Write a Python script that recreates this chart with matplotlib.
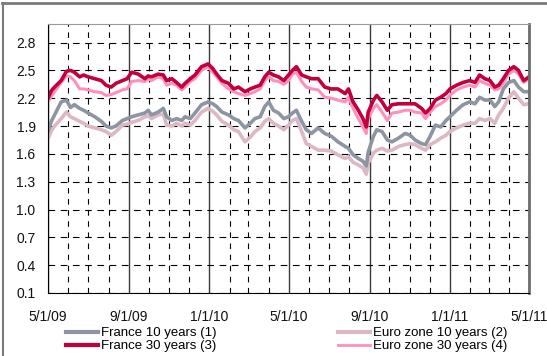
import pandas as pd
import matplotlib
matplotlib.use("Agg")
import matplotlib.pyplot as plt
import matplotlib.dates as mdates
from matplotlib.lines import Line2D
from matplotlib.ticker import FuncFormatter, FixedLocator

plt.rcParams['font.family'] = ['Liberation Sans', 'DejaVu Sans']

# days since 1 May 2009
days = [0, 5, 10, 20, 28, 34, 40, 48, 54, 61, 71, 81, 88, 96, 103, 113, 120, 127,
        137, 147, 152, 157, 167, 175, 180, 188, 195, 203, 208, 216, 223, 233, 243,
        250, 256, 264, 274, 282, 289, 299, 307, 314, 322, 329, 335, 342, 350, 358,
        365, 371, 377, 385, 392, 400, 410, 420, 430, 440, 451, 456, 463, 471, 478,
        483, 486, 494, 499, 507, 515, 522, 532, 542, 550, 557, 567, 573, 580, 588,
        596, 604, 610, 620, 630, 640, 648, 655, 663, 671, 678, 684, 691, 699, 707,
        714, 722, 730]

france_30 = [2.20, 2.28, 2.32, 2.39, 2.49, 2.50, 2.48, 2.43, 2.45, 2.43, 2.41, 2.39,
             2.34, 2.32, 2.36, 2.39, 2.41, 2.48, 2.46, 2.41, 2.44, 2.43, 2.46, 2.45,
             2.39, 2.41, 2.37, 2.32, 2.36, 2.41, 2.45, 2.54, 2.57, 2.52, 2.46, 2.39,
             2.36, 2.30, 2.32, 2.27, 2.30, 2.32, 2.34, 2.43, 2.48, 2.45, 2.43, 2.39,
             2.45, 2.50, 2.54, 2.45, 2.43, 2.41, 2.41, 2.32, 2.30, 2.30, 2.25, 2.30,
             2.16, 2.07, 1.98, 1.89, 2.05, 2.18, 2.23, 2.16, 2.07, 2.13, 2.14, 2.14,
             2.14, 2.14, 2.09, 2.04, 2.09, 2.18, 2.21, 2.25, 2.30, 2.34, 2.37, 2.39,
             2.37, 2.45, 2.41, 2.39, 2.32, 2.34, 2.41, 2.50, 2.54, 2.50, 2.39, 2.43]

euro_30 = [2.16, 2.22, 2.27, 2.37, 2.44, 2.43, 2.39, 2.30, 2.30, 2.29, 2.27, 2.26,
           2.23, 2.24, 2.26, 2.29, 2.30, 2.38, 2.39, 2.38, 2.41, 2.39, 2.43, 2.41,
           2.34, 2.36, 2.34, 2.29, 2.32, 2.38, 2.41, 2.50, 2.54, 2.48, 2.43, 2.36,
           2.30, 2.27, 2.25, 2.23, 2.25, 2.27, 2.30, 2.39, 2.43, 2.39, 2.38, 2.35,
           2.39, 2.46, 2.48, 2.38, 2.32, 2.30, 2.29, 2.21, 2.20, 2.18, 2.16, 2.21,
           2.09, 1.98, 1.89, 1.82, 1.98, 2.09, 2.13, 2.05, 1.96, 2.04, 2.05, 2.07,
           2.07, 2.05, 2.04, 1.98, 2.05, 2.11, 2.14, 2.18, 2.23, 2.29, 2.32, 2.34,
           2.32, 2.39, 2.36, 2.34, 2.29, 2.30, 2.36, 2.46, 2.50, 2.46, 2.37, 2.41]

france_10 = [1.84, 1.95, 2.02, 2.16, 2.18, 2.10, 2.13, 2.09, 2.07, 2.04, 2.00, 1.95,
             1.90, 1.88, 1.90, 1.96, 1.98, 2.00, 2.02, 2.04, 2.07, 2.02, 2.05, 2.09,
             2.00, 1.96, 1.98, 1.96, 2.00, 1.98, 2.04, 2.13, 2.16, 2.14, 2.11, 2.05,
             2.02, 1.98, 1.96, 1.88, 1.93, 1.98, 2.00, 2.11, 2.16, 2.07, 2.04, 1.98,
             2.00, 2.04, 2.07, 1.95, 1.86, 1.82, 1.88, 1.82, 1.79, 1.73, 1.68, 1.66,
             1.59, 1.55, 1.52, 1.47, 1.62, 1.79, 1.86, 1.84, 1.75, 1.73, 1.77, 1.82,
             1.80, 1.75, 1.71, 1.70, 1.79, 1.91, 1.89, 1.96, 2.00, 2.07, 2.13, 2.16,
             2.14, 2.21, 2.18, 2.18, 2.11, 2.16, 2.30, 2.37, 2.39, 2.32, 2.27, 2.27]

euro_10 = [1.76, 1.85, 1.90, 1.98, 2.05, 2.00, 1.98, 1.95, 1.93, 1.90, 1.88, 1.86,
           1.84, 1.80, 1.84, 1.91, 1.92, 1.94, 1.96, 2.00, 2.01, 1.98, 2.02, 2.03,
           1.91, 1.90, 1.93, 1.90, 1.93, 1.91, 1.96, 2.05, 2.09, 2.06, 2.02, 1.95,
           1.91, 1.86, 1.84, 1.73, 1.78, 1.84, 1.88, 1.95, 1.98, 1.93, 1.90, 1.86,
           1.91, 1.96, 1.98, 1.84, 1.71, 1.68, 1.64, 1.64, 1.63, 1.59, 1.55, 1.57,
           1.51, 1.48, 1.45, 1.38, 1.50, 1.61, 1.64, 1.66, 1.63, 1.64, 1.68, 1.70,
           1.71, 1.70, 1.66, 1.64, 1.70, 1.73, 1.77, 1.80, 1.84, 1.88, 1.91, 1.93,
           1.93, 1.98, 1.96, 1.98, 1.93, 2.02, 2.09, 2.20, 2.27, 2.20, 2.13, 2.14]

y_ticks = [0.1, 0.4, 0.7, 1.0, 1.3, 1.6, 1.9, 2.2, 2.5, 2.8]

dates = pd.Timestamp('2009-05-01') + pd.to_timedelta(days, unit='D')

fig = plt.figure(figsize=(5.47, 3.56), dpi=100)
ax = fig.add_axes([48 / 547, 1 - 293 / 356, 481 / 547, 269 / 356])

# back to front
ax.plot(dates, euro_10, color='#dcb7c4', lw=2.6, solid_joinstyle='round')
ax.plot(dates, france_10, color='#8d95a2', lw=2.6, solid_joinstyle='round')
ax.plot(dates, euro_30, color='#ff8fbd', lw=2.2, solid_joinstyle='round')
ax.plot(dates, france_30, color='#c2003c', lw=2.6, solid_joinstyle='round')

ax.set_xlim(pd.Timestamp('2009-05-01'), pd.Timestamp('2011-05-01'))
ax.set_ylim(0.1, 3.0)

ax.yaxis.set_major_locator(FixedLocator(y_ticks))
ax.yaxis.set_major_formatter(FuncFormatter(lambda v, p: f"{v:.1f}"))
ax.xaxis.set_major_locator(mdates.MonthLocator(bymonth=[1, 5, 9]))
ax.xaxis.set_minor_locator(mdates.MonthLocator())
ax.xaxis.set_major_formatter(FuncFormatter(
    lambda v, p: (lambda d: f"{d.month}/{d.day}/{d:%y}")(mdates.num2date(v))))

ax.tick_params(axis='both', which='both', length=0, labelsize=10, colors='#111111')
ax.tick_params(axis='y', pad=9)
ax.tick_params(axis='x', pad=12)

ax.grid(True, axis='x', which='major', color='#3a3a3a', lw=1.0, ls='-')
ax.grid(True, axis='x', which='minor', color='black', lw=0.8, ls=(0, (5, 5)))
ax.grid(True, axis='y', which='major', color='black', lw=0.8, ls=(0, (6, 5)))
ax.set_axisbelow(True)

ax.spines['left'].set_color('black')
ax.spines['bottom'].set_color('black')
ax.spines['top'].set_color('#9a9a9a')
ax.spines['right'].set_color('#6e6e6e')
ax.spines['right'].set_linewidth(2)

# outer frame
fig.add_artist(Line2D([0.004, 1], [1 - 2.5 / 356, 1 - 2.5 / 356],
                      transform=fig.transFigure, color='#7a7a7a', lw=2))
fig.add_artist(Line2D([2.5 / 547, 2.5 / 547], [0, 1 - 2.5 / 356],
                      transform=fig.transFigure, color='#7a7a7a', lw=1.5))

h_f10 = Line2D([], [], color='#8d95a2', lw=3)
h_f30 = Line2D([], [], color='#c2003c', lw=3)
h_e10 = Line2D([], [], color='#dcb7c4', lw=3)
h_e30 = Line2D([], [], color='#ff8fbd', lw=2)

leg_kw = dict(loc='upper left', frameon=False, fontsize=9.5, handlelength=2.4,
              handletextpad=0.25, labelspacing=0.05, borderaxespad=0, borderpad=0)
fig.legend([h_f10, h_f30], ['France 10 years (1)', 'France 30 years (3)'],
           bbox_to_anchor=(66 / 547, 1 - 327 / 356), **leg_kw)
fig.legend([h_e10, h_e30], ['Euro zone 10 years (2)', 'Euro zone 30 years (4)'],
           bbox_to_anchor=(338 / 547, 1 - 327 / 356), **leg_kw)

fig.savefig('out.png', dpi=100)
